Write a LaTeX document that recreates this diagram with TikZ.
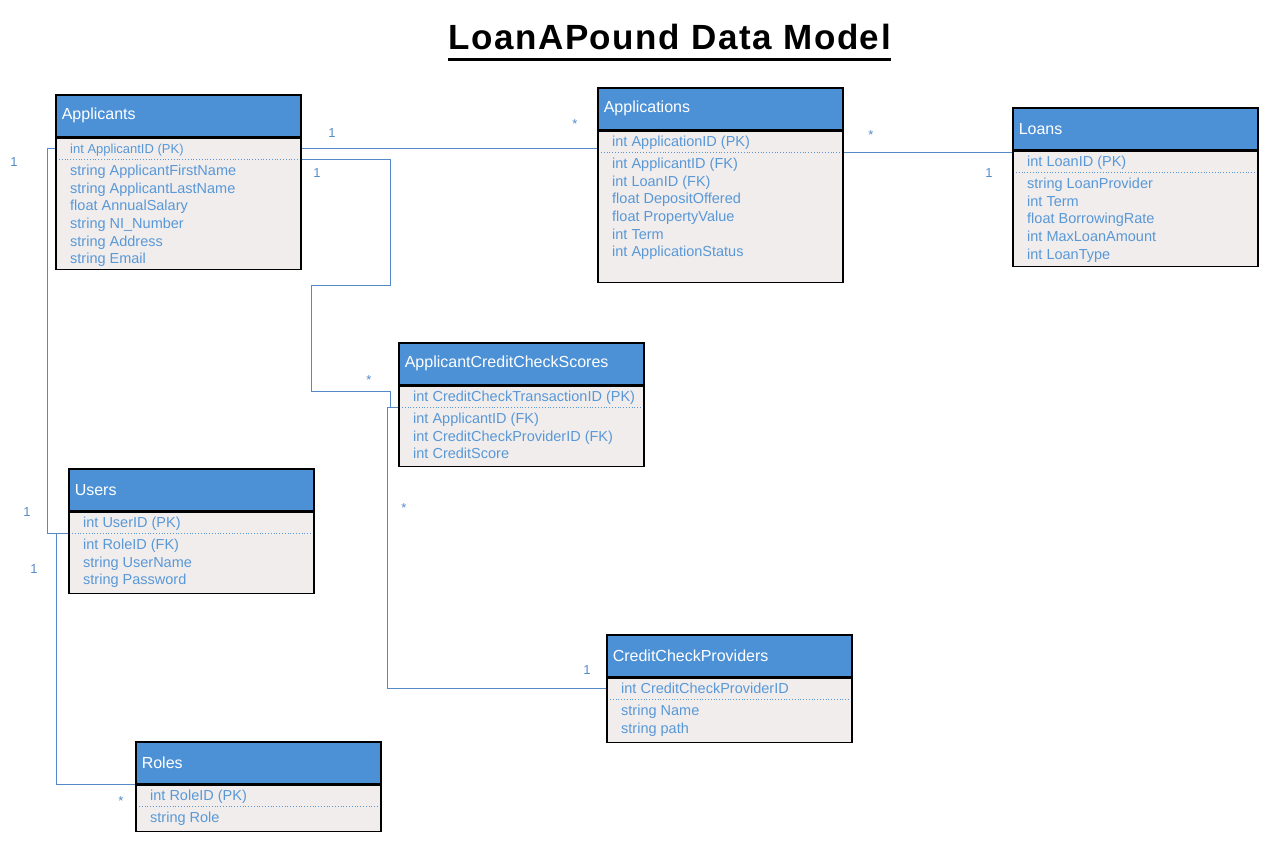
\documentclass[tikz,border=0pt]{standalone}
\usepackage{fontspec}
\setmainfont{Liberation Sans}
\newfontfamily\titlefont[LetterSpace=4.5]{Liberation Sans}
\usepackage{xcolor}
\usepackage{tikz}
\usetikzlibrary{calc}

\definecolor{headblue}{RGB}{76,145,214}
\definecolor{rowblue}{RGB}{88,152,215}
\definecolor{linkblue}{RGB}{84,138,200}
\definecolor{bodygray}{RGB}{241,237,237}

\tikzset{
	headbox/.style={draw=black, line width=1.6pt, fill=headblue, text=white, minimum width=245pt, minimum height=42pt, text width=233pt, inner xsep=6pt, align=left, font=\fontsize{16}{18}\selectfont},
	bodybox/.style={draw=black, line width=1.6pt, fill=bodygray, minimum width=245pt, inner sep=0pt},
	rowtext/.style={text=rowblue, inner sep=0pt, font=\fontsize{14.5}{16}\selectfont},
	sepline/.style={draw=rowblue, dotted, line width=0.8pt},
	link/.style={draw=linkblue, line width=0.9pt},
	mult/.style={text=linkblue, inner sep=0pt, font=\fontsize{13}{15}\selectfont}
}

% entity box: name, x, y, body height, title, key row, other rows
\newcommand{\entity}[7]{%
	\node[headbox, anchor=north west] (#1-head) at (#2,#3) {#5};
	\node[bodybox, minimum height=#4pt, anchor=north west] (#1-body) at (#1-head.south west) {};
	\coordinate (#1-pkL) at ($(#1-body.north west)+(0,11)$);
	\coordinate (#1-pkR) at ($(#1-body.north east)+(0,11)$);
	\coordinate (#1-sepL) at ($(#1-body.north west)+(0,22)$);
	\coordinate (#1-sepR) at ($(#1-body.north east)+(0,22)$);
	\node[rowtext, anchor=base west] (#1-pk) at ($(#1-body.north west)+(15,16)$) {#6};
	\draw[sepline] ($(#1-sepL)+(4,0)$) -- ($(#1-sepR)+(-4,0)$);
	\foreach \r [count=\i from 0] in {#7}
		\node[rowtext, anchor=base west] at ($(#1-body.north west)+(15,38+17.6*\i)$) {\r};
}

\begin{document}
\begin{tikzpicture}[x=1pt, y=-1pt]
			\useasboundingbox (0,0) rectangle (1278,864);
			
			\node[anchor=base, inner sep=0pt, font=\titlefont\bfseries\fontsize{35}{40}\selectfont] (title) at (669.5,50) {LoanAPound Data Model};
			\draw[line width=3pt] ($(title.base west)+(0,10)$) -- ($(title.base east)+(0,10)$);
			
			\entity{applicants}{55}{94}{131}{Applicants}{\fontsize{13}{15}\selectfont int ApplicantID (PK)}{string ApplicantFirstName, string ApplicantLastName, float AnnualSalary, string NI\_Number, string Address, string Email}
			\entity{applications}{597}{87}{151}{Applications}{int ApplicationID (PK)}{int ApplicantID (FK), int LoanID (FK), float DepositOffered, float PropertyValue, int Term, int ApplicationStatus}
			\entity{loans}{1012}{107}{115}{Loans}{int LoanID (PK)}{string LoanProvider, int Term, float BorrowingRate, int MaxLoanAmount, int LoanType}
			\entity{scores}{398}{342}{80}{ApplicantCreditCheckScores}{int CreditCheckTransactionID (PK)}{int ApplicantID (FK), int CreditCheckProviderID (FK), int CreditScore}
			\entity{users}{68}{468}{81}{Users}{int UserID (PK)}{int RoleID (FK), string UserName, string Password}
			\entity{providers}{606}{634}{64}{CreditCheckProviders}{int CreditCheckProviderID}{string Name, string path}
			\entity{roles}{135}{741}{46}{Roles}{int RoleID (PK)}{string Role}
			
			% relations
			\draw[link] (applicants-pkR) -- (applicants-pkR -| applications-body.west);
			\draw[link] (applications-sepR) -- (applications-sepR -| loans-body.west);
			\draw[link] (applicants-sepR) -| (390,285) -| (311,391) -| ([xshift=-8pt]scores-sepL) -- (scores-sepL);
			\draw[link] (scores-sepL) -- ([xshift=-11pt]scores-sepL) |- (providers-pkL);
			\draw[link] (applicants-pkL) -- ([xshift=-8pt]applicants-pkL) |- (users-sepL);
			\draw[link] ([xshift=-12pt]users-sepL) |- (roles-body.north west);
			
			% multiplicities
			\node[mult] (m1) at (332,133) {1};
			\node[mult] (m2) at (575,124) {*};
			\node[mult] (m3) at (317,173) {1};
			\node[mult] (m4) at (369,380) {*};
			\node[mult] (m5) at (871,135) {*};
			\node[mult] (m6) at (989,173) {1};
			\node[mult] (m7) at (404,508) {*};
			\node[mult] (m8) at (587,670) {1};
			\node[mult] (m9) at (14,162) {1};
			\node[mult] (m10) at (27,512) {1};
			\node[mult] (m11) at (34,569) {1};
			\node[mult] (m12) at (121,801) {*};
		\end{tikzpicture}
\end{document}
